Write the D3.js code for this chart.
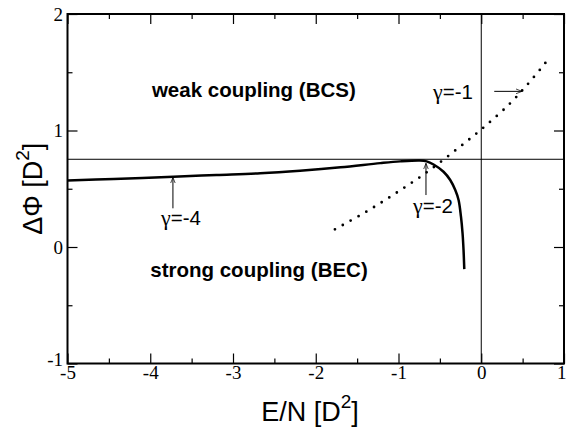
<!DOCTYPE html>
<html>
<head>
<meta charset="utf-8">
<script src="https://cdn.jsdelivr.net/npm/d3@7"></script>
<style>
  html, body { margin: 0; padding: 0; background: #fff; }
  svg { display: block; }
</style>
</head>
<body>
<svg id="chart" width="566" height="428"></svg>
<script>
// ---- data ----
const xMajorTicks = [-5, -4, -3, -2, -1, 0, 1];
const xMinorTicks = [-4.5, -3.5, -2.5, -1.5, -0.5, 0.5];
const yMajorTicks = [-1, 0, 1, 2];
const yMinorTicks = [-0.5, 0.5, 1.5];

// solid curve (gamma varies along it)
const solidE   = [-5, -4.44, -3.72, -3.2, -2.67, -2.19, -1.7, -1.22, -0.98, -0.74, -0.66, -0.576, -0.456, -0.375, -0.314, -0.274, -0.245, -0.226, -0.214, -0.205];
const solidPhi = [0.571, 0.584, 0.603, 0.618, 0.633, 0.655, 0.684, 0.72, 0.735, 0.742, 0.735, 0.708, 0.646, 0.575, 0.489, 0.403, 0.26, 0.118, -0.026, -0.19];

// dotted curve
const dotE   = [-1.768, -1.39, -1.024, -0.665, -0.323, 0.016, 0.338, 0.556, 0.765, 0.828];
const dotPhi = [0.152, 0.303, 0.466, 0.638, 0.824, 1.019, 1.225, 1.393, 1.571, 1.631];

// reference lines
const refPhi = 0.753;
const refE = 0;

// annotations: gamma value, arrow start (E, Phi), arrow end (E, Phi), label anchor (E, Phi)
const annGamma   = ["-4", "-2", "-1"];
const annFromE   = [-3.726, -0.668, 0.157];
const annFromPhi = [0.332, 0.446, 1.336];
const annToE     = [-3.726, -0.668, 0.492];
const annToPhi   = [0.597, 0.718, 1.336];
const annTextE   = [-3.87, -0.825, -0.584];
const annTextPhi = [0.189, 0.289, 1.268];

const regionLabels = ["weak coupling (BCS)", "strong coupling (BEC)"];
const regionE   = [-3.98, -4.0];
const regionPhi = [1.285, -0.26];

// ---- layout ----
const W = 566, H = 428;
const m = { left: 67.5, right: 2, top: 14, bottom: 64.5 };
const svg = d3.select("#chart");
const x = d3.scaleLinear().domain([-5, 1]).range([m.left, W - m.right]);
const y = d3.scaleLinear().domain([-1, 2]).range([H - m.bottom, m.top]);

const tickFont = "'Liberation Serif', 'Times New Roman', serif";
const sansFont = "'Liberation Sans', Arial, Helvetica, sans-serif";

// reference lines
svg.append("line")
  .attr("x1", x(-5)).attr("x2", x(1))
  .attr("y1", y(refPhi)).attr("y2", y(refPhi))
  .attr("stroke", "#000").attr("stroke-width", 1);
svg.append("line")
  .attr("x1", x(refE)).attr("x2", x(refE))
  .attr("y1", y(-1)).attr("y2", y(2))
  .attr("stroke", "#000").attr("stroke-width", 1);

// axes
const fmt = d => String(d);
function styleAxis(g) {
  g.select(".domain").remove();
  g.selectAll(".tick line").attr("stroke", "#000").attr("stroke-width", 1.2);
  g.selectAll("text").attr("fill", "#000").attr("font-family", tickFont).attr("font-size", 19);
}
const gBottom = svg.append("g").attr("transform", `translate(0,${y(-1)})`)
  .call(d3.axisBottom(x).tickValues(xMajorTicks).tickSize(-10).tickPadding(2).tickFormat(fmt));
styleAxis(gBottom);
gBottom.selectAll(".tick text").filter(d => d === 1).attr("text-anchor", "end").attr("x", 2);
const gBottomMinor = svg.append("g").attr("transform", `translate(0,${y(-1)})`)
  .call(d3.axisBottom(x).tickValues(xMinorTicks).tickSize(-5).tickFormat(""));
styleAxis(gBottomMinor);
const gTop = svg.append("g").attr("transform", `translate(0,${y(2)})`)
  .call(d3.axisTop(x).tickValues(xMajorTicks).tickSize(-10).tickFormat(""));
styleAxis(gTop);
const gTopMinor = svg.append("g").attr("transform", `translate(0,${y(2)})`)
  .call(d3.axisTop(x).tickValues(xMinorTicks).tickSize(-5).tickFormat(""));
styleAxis(gTopMinor);

const gLeft = svg.append("g").attr("transform", `translate(${x(-5)},0)`)
  .call(d3.axisLeft(y).tickValues(yMajorTicks).tickSize(-10).tickPadding(4.5).tickFormat(fmt));
styleAxis(gLeft);
gLeft.selectAll(".tick text").filter(d => d === -1).attr("dy", "0.1em");
const gLeftMinor = svg.append("g").attr("transform", `translate(${x(-5)},0)`)
  .call(d3.axisLeft(y).tickValues(yMinorTicks).tickSize(-5).tickFormat(""));
styleAxis(gLeftMinor);
const gRight = svg.append("g").attr("transform", `translate(${x(1)},0)`)
  .call(d3.axisRight(y).tickValues(yMajorTicks).tickSize(-10).tickFormat(""));
styleAxis(gRight);
const gRightMinor = svg.append("g").attr("transform", `translate(${x(1)},0)`)
  .call(d3.axisRight(y).tickValues(yMinorTicks).tickSize(-5).tickFormat(""));
styleAxis(gRightMinor);

// frame
svg.append("rect")
  .attr("x", x(-5)).attr("y", y(2))
  .attr("width", x(1) - x(-5)).attr("height", y(-1) - y(2))
  .attr("fill", "none").attr("stroke", "#000").attr("stroke-width", 2);

// curves
const solid = solidE.map((e, i) => [e, solidPhi[i]]);
const dotted = dotE.map((e, i) => [e, dotPhi[i]]);
const line = d3.line().x(d => x(d[0])).y(d => y(d[1])).curve(d3.curveCatmullRom.alpha(0.5));

svg.append("path").datum(solid)
  .attr("d", line)
  .attr("fill", "none").attr("stroke", "#000").attr("stroke-width", 2.5);

svg.append("path").datum(dotted)
  .attr("d", line)
  .attr("fill", "none").attr("stroke", "#000").attr("stroke-width", 2.8)
  .attr("stroke-linecap", "round").attr("stroke-dasharray", "0 9");

// arrow marker
svg.append("defs").append("marker")
  .attr("id", "arr").attr("viewBox", "0 0 10 10")
  .attr("refX", 10).attr("refY", 5)
  .attr("markerWidth", 6).attr("markerHeight", 6)
  .attr("markerUnits", "userSpaceOnUse")
  .attr("orient", "auto")
  .append("path").attr("d", "M0,1 L10,5 L0,9")
  .attr("fill", "none").attr("stroke", "#000").attr("stroke-width", 1.2);

annGamma.forEach((g, i) => {
  svg.append("line")
    .attr("x1", x(annFromE[i])).attr("y1", y(annFromPhi[i]))
    .attr("x2", x(annToE[i])).attr("y2", y(annToPhi[i]))
    .attr("stroke", "#000").attr("stroke-width", 1)
    .attr("marker-end", "url(#arr)");
  const t = svg.append("text")
    .attr("x", x(annTextE[i])).attr("y", y(annTextPhi[i]))
    .attr("font-family", sansFont).attr("font-size", 20.5)
    .attr("fill", "#000");
  t.append("tspan").attr("font-family", tickFont).attr("font-size", 22).text("γ");
  t.append("tspan").text("=" + g);
});

regionLabels.forEach((lab, i) => {
  svg.append("text")
    .attr("x", x(regionE[i])).attr("y", y(regionPhi[i]))
    .attr("font-family", sansFont).attr("font-size", 20.5).attr("font-weight", "bold")
    .attr("fill", "#000")
    .text(lab);
});

// axis titles
const xt = svg.append("text")
  .attr("x", 310).attr("y", 421)
  .attr("text-anchor", "middle")
  .attr("font-family", sansFont).attr("font-size", 27).attr("fill", "#000");
xt.append("tspan").text("E/N [D");
xt.append("tspan").attr("font-size", 19).attr("dy", -13).text("2");
xt.append("tspan").attr("dy", 13).text("]");

const yt = svg.append("text")
  .attr("transform", `translate(41.5,${(y(-1) + y(2)) / 2}) rotate(-90)`)
  .attr("text-anchor", "middle")
  .attr("font-family", sansFont).attr("font-size", 27).attr("fill", "#000");
yt.append("tspan").text("ΔΦ [D");
yt.append("tspan").attr("font-size", 19).attr("dy", -13).text("2");
yt.append("tspan").attr("dy", 13).text("]");
</script>
</body>
</html>
